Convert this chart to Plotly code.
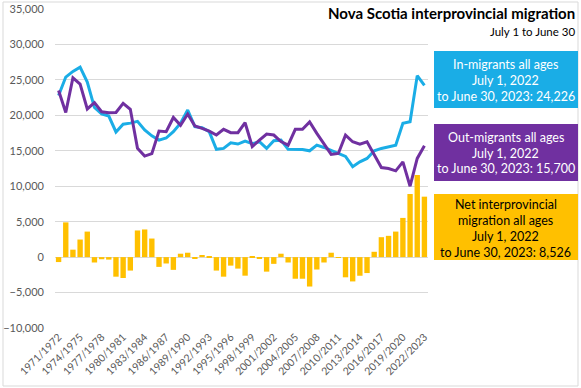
import plotly.graph_objects as go

categories = [
    "1971/1972", "1972/1973", "1973/1974", "1974/1975", "1975/1976", "1976/1977",
    "1977/1978", "1978/1979", "1979/1980", "1980/1981", "1981/1982", "1982/1983",
    "1983/1984", "1984/1985", "1985/1986", "1986/1987", "1987/1988", "1988/1989",
    "1989/1990", "1990/1991", "1991/1992", "1992/1993", "1993/1994", "1994/1995",
    "1995/1996", "1996/1997", "1997/1998", "1998/1999", "1999/2000", "2000/2001",
    "2001/2002", "2002/2003", "2003/2004", "2004/2005", "2005/2006", "2006/2007",
    "2007/2008", "2008/2009", "2009/2010", "2010/2011", "2011/2012", "2012/2013",
    "2013/2014", "2014/2015", "2015/2016", "2016/2017", "2017/2018", "2018/2019",
    "2019/2020", "2020/2021", "2021/2022", "2022/2023",
]

in_migrants = [
    22800, 25400, 26200, 26800, 24700, 21100, 20200, 19900, 17650, 18750,
    18900, 19150, 17950, 17100, 16500, 16800, 17700, 18900, 20750, 18400,
    18250, 17700, 15200, 15330, 16130, 15950, 16370, 16000, 16270, 15330,
    16420, 16500, 15200, 15190, 15190, 15000, 15800, 15470, 15050, 14650,
    14200, 12750, 13440, 13920, 15000, 15330, 15570, 15800, 18870, 19100,
    25600, 24226,
]

out_migrants = [
    23500, 20400, 25300, 24400, 20900, 21800, 20500, 20350, 20400, 21700,
    20850, 15350, 14250, 14600, 17780, 17690, 19700, 18600, 20190, 18490,
    18160, 17780, 17220, 18020, 17550, 17550, 18960, 15600, 16510, 17360,
    17220, 16300, 15800, 18020, 18020, 19060, 17450, 15900, 14480, 14620,
    17200, 16270, 15940, 16270, 14390, 12640, 12500, 12170, 13440, 10000,
    13920, 15700,
]

net_migration = [
    -700, 4900, 1050, 2480, 3600, -760, -300, -350, -2760, -2950,
    -1900, 3760, 3900, 2620, -1380, -900, -1800, 480, 620, -200,
    300, 150, -1900, -2760, -1200, -1620, -2620, 100, -150, -2050,
    -950, 480, -760, -3050, -3050, -4150, -1750, -760, 620, -60,
    -2850, -3430, -2630, -2250, 750, 2810, 3000, 3600, 5530, 8900,
    11580, 8526,
]

tick_labels = [
    "1971/1972", "1974/1975", "1977/1978", "1980/1981", "1983/1984", "1986/1987",
    "1989/1990", "1992/1993", "1995/1996", "1998/1999", "2001/2002", "2004/2005",
    "2007/2008", "2010/2011", "2013/2014", "2016/2017", "2019/2020", "2022/2023",
]

title = "Nova Scotia interprovincial migration"
subtitle = "July 1 to June 30"
in_box = ["In-migrants all ages", "July 1, 2022", "to June 30, 2023: 24,226"]
out_box = ["Out-migrants all ages", "July 1, 2022", "to June 30, 2023: 15,700"]
net_box = ["Net interprovincial", "migration all ages", "July 1, 2022", "to June 30, 2023: 8,526"]

C_IN = "#1AADE6"
C_OUT = "#7030A0"
C_NET = "#FFC000"
FONT = "Lato"

W, H = 581, 388
L, R, T, B = 55, 428, 9, 328


def px(x):
    return (x - L) / (R - L)


def py(y):
    return (B - y) / (B - T)


fig = go.Figure()
fig.add_trace(go.Bar(x=categories, y=net_migration, marker=dict(color=C_NET, line=dict(width=0)),
                     name="Net"))
fig.add_trace(go.Scatter(x=categories, y=in_migrants, mode="lines",
                         line=dict(color=C_IN, width=3), name="In"))
fig.add_trace(go.Scatter(x=categories, y=out_migrants, mode="lines",
                         line=dict(color=C_OUT, width=3), name="Out"))

fig.update_layout(
    width=W, height=H,
    margin=dict(l=L, r=W - R, t=T, b=H - B),
    paper_bgcolor="white", plot_bgcolor="white",
    showlegend=False, bargap=0.25,
    font=dict(family=FONT, color="#595959", size=11),
)
fig.update_xaxes(type="category", tickmode="array", tickvals=tick_labels, ticktext=tick_labels,
                 tickangle=-45, showgrid=False, showline=False, ticks="", automargin=False,
                 tickfont=dict(size=10.5, color="#595959"))
fig.update_yaxes(range=[-10000, 35000], dtick=5000, tickformat=",", gridcolor="#D9D9D9",
                 gridwidth=1, zeroline=False, showline=False, automargin=False,
                 ticklabelstandoff=10, tickfont=dict(size=11, color="#595959"))

shapes = [
    dict(type="rect", xref="paper", yref="paper", x0=px(3), x1=px(578), y0=py(386), y1=py(2),
         line=dict(color="#D9D9D9", width=1), fillcolor="rgba(0,0,0,0)", layer="below"),
    dict(type="rect", xref="paper", yref="paper", x0=px(434), x1=px(578), y0=py(108), y1=py(51),
         line=dict(width=0), fillcolor=C_IN),
    dict(type="rect", xref="paper", yref="paper", x0=px(434), x1=px(578), y0=py(181), y1=py(124),
         line=dict(width=0), fillcolor=C_OUT),
    dict(type="rect", xref="paper", yref="paper", x0=px(434), x1=px(578), y0=py(260), y1=py(194),
         line=dict(width=0), fillcolor=C_NET),
]

anns = [
    dict(text="<b>" + title + "</b>", x=px(577), y=py(13), xanchor="right", yanchor="middle",
         font=dict(size=15, color="black", family=FONT)),
    dict(text=subtitle, x=px(577), y=py(31), xanchor="right", yanchor="middle",
         font=dict(size=11.5, color="black", family=FONT)),
]
cx = px(506)
for lines, ys, col in [(in_box, [64, 80, 96.5], "white"),
                       (out_box, [137, 153.3, 169], "white"),
                       (net_box, [204, 220, 236, 252.7], "black")]:
    for t, yy in zip(lines, ys):
        anns.append(dict(text=t, x=cx, y=py(yy), xanchor="center", yanchor="middle",
                         font=dict(size=12.5, color=col, family=FONT)))
for a in anns:
    a.update(xref="paper", yref="paper", showarrow=False)

fig.update_layout(shapes=shapes, annotations=anns)
fig.write_html("out.html", config={"displayModeBar": False},
               post_script="document.body.style.margin='0';document.body.style.overflow='hidden';")
